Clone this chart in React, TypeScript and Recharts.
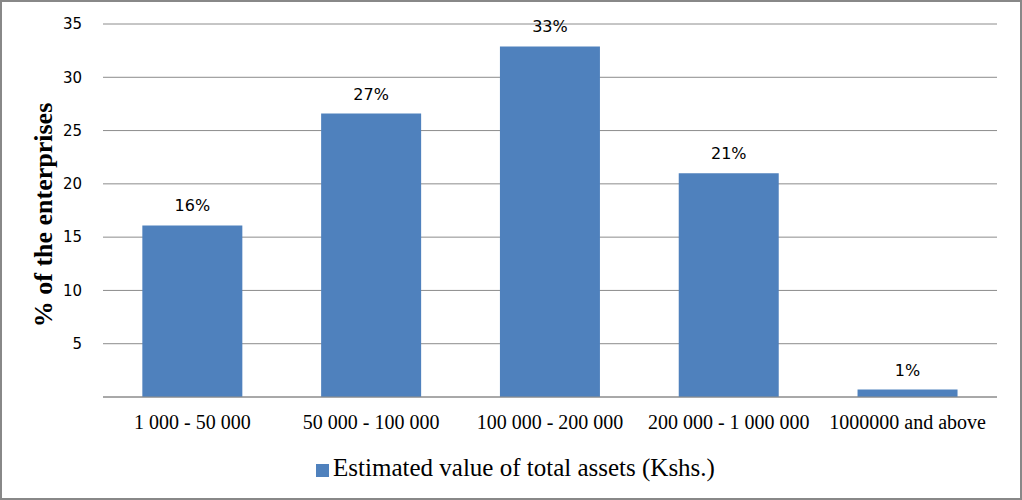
import React from 'react';
import { BarChart, Bar, XAxis, YAxis, CartesianGrid, Legend, LabelList } from 'recharts';

const categories = ['1 000 - 50 000', '50 000 - 100 000', '100 000 - 200 000', '200 000 - 1 000 000', '1000000 and above'];
const values = [16.1, 26.6, 32.9, 21.0, 0.7];
const yTicks = [5, 10, 15, 20, 25, 30, 35];
const seriesName = 'Estimated value of total assets (Kshs.)';
const yTitle = '% of the enterprises';

const data = categories.map((c, i) => ({ name: c, value: values[i] }));

const YTitle = () => (
  <text x={0} y={0} transform="translate(52, 215) rotate(-90)" textAnchor="middle"
    style={{ fontFamily: 'Liberation Serif', fontWeight: 'bold', fontSize: 26, fill: '#000' }}>
    {yTitle}
  </text>
);

export default function App() {
  return (
    <div style={{ position: 'absolute', left: 0, top: 0, width: 1022, height: 500, boxSizing: 'border-box', border: '2px solid #888', background: '#fff' }}>
      <div style={{ position: 'absolute', left: -2, top: -2 }}>
        <BarChart width={1022} height={500} data={data} margin={{ top: 24, right: 25, left: 0, bottom: 0 }} barCategoryGap="22%">
          <CartesianGrid horizontal vertical={false} stroke="#8c8c8c" strokeWidth={1} />
          <XAxis dataKey="name" height={73} stroke="#8c8c8c" tickLine={false} tickSize={6} tickMargin={12}
            tick={{ fill: '#000', fontFamily: 'Liberation Serif', fontSize: 20 }} interval={0} />
          <YAxis width={103} domain={[0, 35]} ticks={yTicks} axisLine={false} tickLine={false} tickSize={0} tickMargin={21}
            tick={{ fill: '#000', fontFamily: 'DejaVu Sans', fontSize: 15 }}
            label={<YTitle />} />
          <Legend verticalAlign="bottom" iconType="square" iconSize={13}
            wrapperStyle={{ fontFamily: 'Liberation Serif', fontSize: 25, color: '#000', bottom: 17, left: 22, height: 30, lineHeight: '30px' }}
            formatter={(v) => <span style={{ color: '#000' }}>{v}</span>} />
          <Bar dataKey="value" name={seriesName} fill="#4F81BD" isAnimationActive={false}>
            <LabelList dataKey="value" position="top" offset={14} formatter={(v) => `${Math.round(Number(v))}%`}
              style={{ fontFamily: 'DejaVu Sans', fontSize: 16, fill: '#000' }} />
          </Bar>
        </BarChart>
      </div>
    </div>
  );
}
